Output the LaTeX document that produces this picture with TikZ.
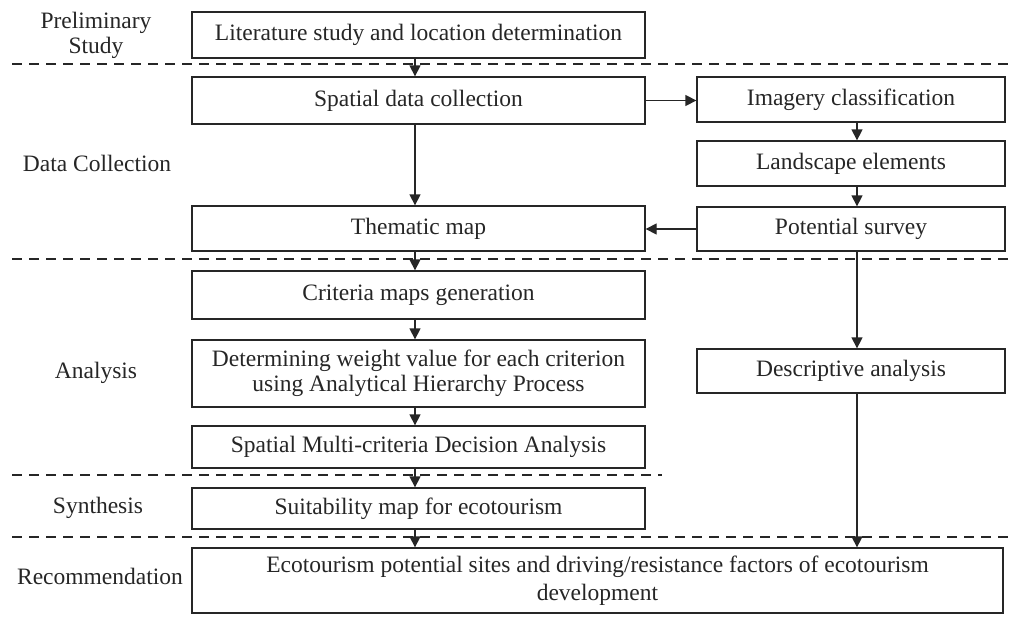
\documentclass[tikz,border=0pt]{standalone}
\usepackage{fontspec}
\setmainfont{Liberation Serif}
\usetikzlibrary{arrows.meta}
\definecolor{ink}{HTML}{262626}
\tikzset{
  box/.style={draw=ink, line width=1.3pt, fill=white, text=ink, align=center, inner sep=0pt,
    font=\fontsize{23.5}{25}\selectfont},
  lbl/.style={text=ink, align=center, font=\fontsize{23.5}{25}\selectfont},
  arr/.style={draw=ink, line width=1.3pt, -{Triangle[length=11pt,width=11pt]}},
  sep/.style={draw=ink, line width=1.6pt, dash pattern=on 10pt off 7pt}
}
\begin{document}
\begin{tikzpicture}[x=1pt,y=-1pt]
\useasboundingbox[fill=white] (0,0) rectangle (1009,616);
% separators
\coordinate (s1a) at (12,64);  \coordinate (s1b) at (1009,64);
\coordinate (s2a) at (12,259); \coordinate (s2b) at (1009,259);
\coordinate (s3a) at (12,475); \coordinate (s3b) at (662,475);
\coordinate (s4a) at (12,537); \coordinate (s4b) at (1009,537);
\draw[sep] (s1a) -- (s1b);
\draw[sep] (s2a) -- (s2b);
\draw[sep] (s3a) -- (s3b);
\draw[sep] (s4a) -- (s4b);
% phase labels
\node[lbl] (lpre) at (96,35) {Preliminary\\Study};
\node[lbl] (ldata) at (97,163) {Data Collection};
\node[lbl] (lana) at (96,373) {Analysis};
\node[lbl] (lsyn) at (98,508) {Synthesis};
\node[lbl] (lrec) at (100,576) {Recommendation};
% left column
\node[box, minimum width=453pt, minimum height=46pt] (lit) at (418.5,35) {Literature study and location determination};
\node[box, minimum width=453pt, minimum height=47pt] (spat) at (418.5,100.5) {Spatial data collection};
\node[box, minimum width=453pt, minimum height=45pt] (them) at (418.5,228.5) {Thematic map};
\node[box, minimum width=453pt, minimum height=48pt] (crit) at (418.5,295) {Criteria maps generation};
\node[box, minimum width=453pt, minimum height=67pt] (ahp) at (418.5,373.5) {Determining weight value for each criterion\\using Analytical Hierarchy Process};
\node[box, minimum width=453pt, minimum height=42pt] (smca) at (418.5,447) {Spatial Multi-criteria Decision Analysis};
\node[box, minimum width=453pt, minimum height=41pt] (suit) at (418.5,508.5) {Suitability map for ecotourism};
\node[box, minimum width=811pt, minimum height=65pt, font=\fontsize{23.5}{28}\selectfont] (eco) at (597.5,580.5) {Ecotourism potential sites and driving/resistance factors of ecotourism\\development};
% right column
\node[box, minimum width=308pt, minimum height=45pt] (img) at (851,99.5) {Imagery classification};
\node[box, minimum width=308pt, minimum height=45pt] (land) at (851,163.5) {Landscape elements};
\node[box, minimum width=308pt, minimum height=44pt] (pot) at (851,229) {Potential survey};
\node[box, minimum width=308pt, minimum height=44pt] (desc) at (851,371) {Descriptive analysis};
% arrow columns
\coordinate (ax) at (415,0);
\coordinate (bx) at (857,0);
\draw[arr] (lit.south -| ax) -- (spat.north -| ax);
\draw[arr] (spat.south -| ax) -- (them.north -| ax);
\draw[arr] (them.south -| ax) -- (crit.north -| ax);
\draw[arr] (crit.south -| ax) -- (ahp.north -| ax);
\draw[arr] (ahp.south -| ax) -- (smca.north -| ax);
\draw[arr] (smca.south -| ax) -- (suit.north -| ax);
\draw[arr] (suit.south -| ax) -- (eco.north -| ax);
\draw[arr] (spat.east) -- (img.west |- spat.east);
\draw[arr] (img.south -| bx) -- (land.north -| bx);
\draw[arr] (land.south -| bx) -- (pot.north -| bx);
\draw[arr] (pot.west) -- (them.east |- pot.west);
\draw[arr] (pot.south -| bx) -- (desc.north -| bx);
\draw[arr] (desc.south -| bx) -- (eco.north -| bx);
\end{tikzpicture}
\end{document}
